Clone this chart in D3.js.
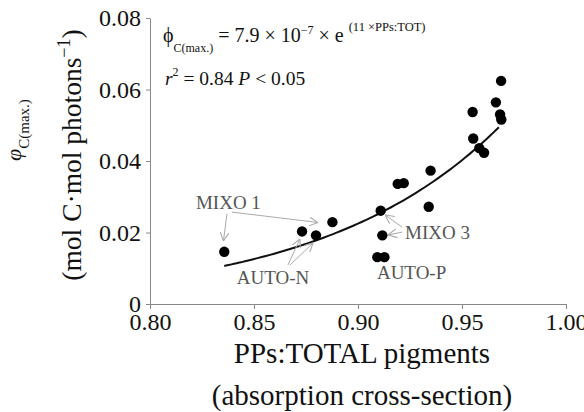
<!DOCTYPE html>
<html>
<head>
<meta charset="utf-8">
<script src="https://cdn.jsdelivr.net/npm/d3@7"></script>
<style>
  body { margin: 0; background: #fff; }
  svg { display: block; font-family: "Liberation Serif", "Times New Roman", serif; }
  .axis path, .axis line { stroke: #888; }
  .axis text { font-family: "Liberation Serif", serif; font-size: 24px; fill: #111; }
  .note { font-size: 19px; fill: #555; }
  .arrow { stroke: #aaa; stroke-width: 1; fill: none; }
</style>
</head>
<body>
<div class="chart"></div>
<script>
// PPs:TOTAL pigment ratio vs phi C(max.)
const ppsRatio = [0.8357, 0.8731, 0.8798, 0.8877, 0.9109, 0.9117, 0.9093, 0.9127, 0.9191, 0.9220,
                  0.9349, 0.9340, 0.9551, 0.9554, 0.9583, 0.9606, 0.9663, 0.9688, 0.9683, 0.9689];
const phiMax    = [0.0146, 0.0203, 0.0192, 0.0229, 0.0261, 0.0192, 0.0131, 0.0131, 0.0336, 0.0338,
                  0.0373, 0.0272, 0.0537, 0.0463, 0.0436, 0.0423, 0.0564, 0.0624, 0.0530, 0.0516];

// exponential fit as drawn: phi = a * exp(b * x), over the range of the data
const fitA = 6.4e-7;
const fitB = 11.63;

const xTicks = [0.80, 0.85, 0.90, 0.95, 1.00];
const yTicks = [0, 0.02, 0.04, 0.06, 0.08];

// labels with arrows (in data units)
const notes = [
  {text: "MIXO 1", at: [0.8221, 0.0266], arrows: [[[0.8370, 0.0252], [0.8353, 0.0176]], [[0.8394, 0.0257], [0.8808, 0.0228]]]},
  {text: "AUTO-N", at: [0.8417, 0.0056], arrows: [[[0.8663, 0.0109], [0.8721, 0.0182]], [[0.8673, 0.0109], [0.8784, 0.0171]]]},
  {text: "MIXO 3", at: [0.9226, 0.0182], arrows: [[[0.9212, 0.0215], [0.9130, 0.0249]], [[0.9212, 0.0201], [0.9144, 0.0193]]]},
  {text: "AUTO-P", at: [0.9091, 0.0070], arrows: []}
];

const width = 584, height = 412;
const margin = {top: 18, right: 18, bottom: 108, left: 150};

const svg = d3.select(".chart").append("svg")
  .attr("width", width)
  .attr("height", height);

const x = d3.scaleLinear().domain([0.8, 1.0]).range([margin.left, width - margin.right]);
const y = d3.scaleLinear().domain([0, 0.08]).range([height - margin.bottom, margin.top]);

// axes
svg.append("g")
  .attr("class", "axis")
  .attr("transform", "translate(0," + y(0) + ")")
  .call(d3.axisBottom(x).tickValues(xTicks).tickFormat(d3.format(".2f")).tickSize(5).tickSizeOuter(0).tickPadding(4));

svg.append("g")
  .attr("class", "axis")
  .attr("transform", "translate(" + x(0.8) + ",0)")
  .call(d3.axisLeft(y).tickValues(yTicks).tickFormat(d => d === 0 ? "0" : d3.format(".2f")(d)).tickSize(4).tickSizeOuter(0).tickPadding(5));

svg.selectAll(".axis .tick text").attr("font-family", "Liberation Serif").attr("font-size", 24);

// fit curve
const xs = d3.range(d3.min(ppsRatio), d3.max(ppsRatio) + 0.0001, 0.002);
const line = d3.line().x(d => x(d)).y(d => y(fitA * Math.exp(fitB * d))).curve(d3.curveBasis);
svg.append("path")
  .datum(xs)
  .attr("d", line)
  .attr("fill", "none")
  .attr("stroke", "#111")
  .attr("stroke-width", 2);

// points
svg.selectAll("circle.pt")
  .data(ppsRatio)
  .enter()
  .append("circle")
  .attr("class", "pt")
  .attr("cx", d => x(d))
  .attr("cy", (d, i) => y(phiMax[i]))
  .attr("r", 5.2)
  .attr("fill", "#000");

// annotations
svg.append("defs").append("marker")
  .attr("id", "head")
  .attr("viewBox", "0 0 10 10")
  .attr("refX", 10).attr("refY", 5)
  .attr("markerWidth", 9).attr("markerHeight", 9)
  .attr("markerUnits", "userSpaceOnUse")
  .attr("orient", "auto")
  .append("path")
  .attr("d", "M0 0 L10 5 L0 10")
  .attr("fill", "none")
  .attr("stroke", "#aaa")
  .attr("stroke-width", 1.2);

notes.forEach(function(n){
  svg.append("text")
    .attr("class", "note")
    .attr("x", x(n.at[0]))
    .attr("y", y(n.at[1]))
    .text(n.text);
  n.arrows.forEach(function(a){
    svg.append("line")
      .attr("class", "arrow")
      .attr("x1", x(a[0][0])).attr("y1", y(a[0][1]))
      .attr("x2", x(a[1][0])).attr("y2", y(a[1][1]))
      .attr("marker-end", "url(#head)");
  });
});

// equation
const eq = svg.append("text").attr("x", 163).attr("y", 42).attr("font-size", 20).attr("fill", "#111");
eq.append("tspan").text("ϕ");
eq.append("tspan").attr("font-size", 12).attr("dy", 10).text("C(max.)");
eq.append("tspan").attr("dy", -10).text(" = 7.9 × 10");
eq.append("tspan").attr("font-size", 12).attr("dy", -8).text("−7");
eq.append("tspan").attr("dy", 8).text(" × e ");
eq.append("tspan").attr("font-size", 12.5).attr("dy", -11).text("(11 ×PPs:TOT)");

const r2 = svg.append("text").attr("x", 165).attr("y", 85).attr("font-size", 19.5).attr("fill", "#111");
r2.append("tspan").attr("font-style", "italic").text("r");
r2.append("tspan").attr("font-size", 12).attr("dy", -9).text("2");
r2.append("tspan").attr("dy", 9).text(" = 0.84  ");
r2.append("tspan").attr("font-style", "italic").text("P");
r2.append("tspan").text(" < 0.05");

// axis titles
const xt = svg.append("text").attr("text-anchor", "middle").attr("font-size", 29).attr("fill", "#111");
xt.append("tspan").attr("x", x(0.9) + 4).attr("y", 363).text("PPs:TOTAL pigments");
xt.append("tspan").attr("x", x(0.9) + 4).attr("y", 405).text("(absorption cross-section)");

const yt1 = svg.append("text")
  .attr("transform", "translate(21,130) rotate(-90)")
  .attr("text-anchor", "middle")
  .attr("font-size", 22)
  .attr("fill", "#111");
yt1.append("tspan").attr("font-style", "italic").text("φ");
yt1.append("tspan").attr("font-size", 15).attr("dy", 8).text("C(max.)");

const yt2 = svg.append("text")
  .attr("transform", "translate(81,155) rotate(-90)")
  .attr("text-anchor", "middle")
  .attr("font-size", 27.5)
  .attr("fill", "#111");
yt2.append("tspan").text("(mol C·mol photons");
yt2.append("tspan").attr("font-size", 18).attr("dy", -11).text("−1");
yt2.append("tspan").attr("dy", 11).text(")");
</script>
</body>
</html>
